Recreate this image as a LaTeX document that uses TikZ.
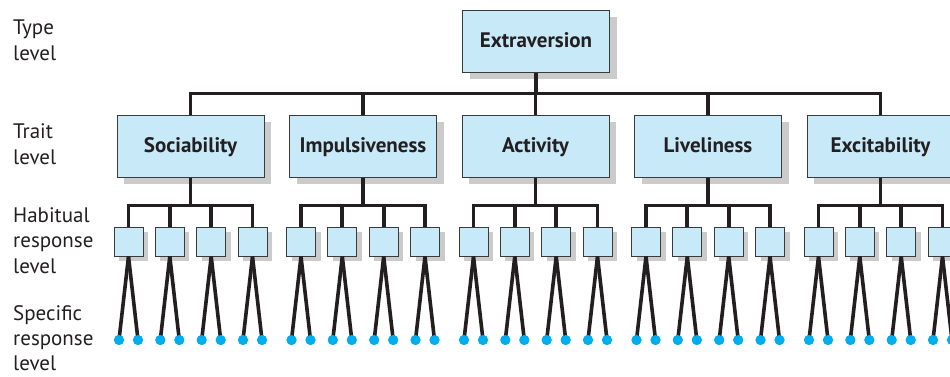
\documentclass[tikz,border=0pt]{standalone}
\usepackage{fontspec}
\setmainfont{PT Sans}
\usetikzlibrary{shadows}
\definecolor{boxfill}{HTML}{C8E9F8}
\definecolor{boxedge}{HTML}{3A3A3A}
\definecolor{shadowgray}{HTML}{CBCBCB}
\definecolor{linkdark}{HTML}{231F20}
\definecolor{dotblue}{HTML}{00AEEF}
\begin{document}
\begin{tikzpicture}[x=1pt,y=-1pt,
  bigbox/.style={draw=boxedge, line width=1pt, fill=boxfill,
    minimum width=147pt, minimum height=62pt, inner sep=0pt,
    text height=16pt, text depth=4pt,
    font=\fontsize{21}{25}\selectfont\bfseries, text=linkdark,
    drop shadow={shadow xshift=7pt, shadow yshift=-7pt, fill=shadowgray, opacity=1}},
  smallbox/.style={draw=boxedge, line width=1pt, fill=boxfill,
    minimum width=29pt, minimum height=29pt, inner sep=0pt,
    drop shadow={shadow xshift=5pt, shadow yshift=-5pt, fill=shadowgray, opacity=1}},
  leafdot/.style={circle, fill=dotblue, minimum size=10pt, inner sep=0pt},
  bus/.style={draw=linkdark, line width=3.8pt, line join=miter},
  leg/.style={draw=linkdark, line width=3.6pt},
  lvl/.style={anchor=base west, inner sep=0pt, text=linkdark,
    font=\fontsize{21}{25}\selectfont}
]
\useasboundingbox (0,0) rectangle (950,376);
\clip (0,0) rectangle (950,376);

% level captions
\node[lvl] (l1a) at (13,34) {Type};
\node[lvl] (l1b) at (13,60) {level};
\node[lvl] (l2a) at (13,138) {Trait};
\node[lvl] (l2b) at (13,164) {level};
\node[lvl] (l3a) at (13,222) {Habitual};
\node[lvl] (l3b) at (13,247.5) {response};
\node[lvl] (l3c) at (13,273) {level};
\node[lvl] (l4a) at (13,320) {Specific};
\node[lvl] (l4b) at (13,345) {response};
\node[lvl] (l4c) at (13,370) {level};

% type level
\node[bigbox] (ext) at (536,41) {Extraversion};

% trait level with habitual and specific responses
\foreach \name/\cx/\lab in {t1/190.5/Sociability, t2/363/Impulsiveness,
    t3/535.5/Activity, t4/708/Liveliness, t5/880.5/Excitability}{
  \node[bigbox] (\name) at (\cx,146) {\lab};
  \draw[bus] (ext.south) -- ++(0,21) -| (\name.north);
  \foreach \k/\dx in {1/-62,2/-20.7,3/20.7,4/62}{
    \node[smallbox] (\name h\k) at (\cx+\dx,241.5) {};
    \draw[bus] (\name.south) -- ++(0,28) -| (\name h\k.north);
    \node[leafdot] (\name h\k a) at (\cx+\dx-9.5,340) {};
    \node[leafdot] (\name h\k b) at (\cx+\dx+9.5,340) {};
    \draw[leg] (\name h\k.south) -- (\name h\k a.center);
    \draw[leg] (\name h\k.south) -- (\name h\k b.center);
    \node[leafdot] at (\name h\k a) {};
    \node[leafdot] at (\name h\k b) {};
  }
}
\end{tikzpicture}
\end{document}
